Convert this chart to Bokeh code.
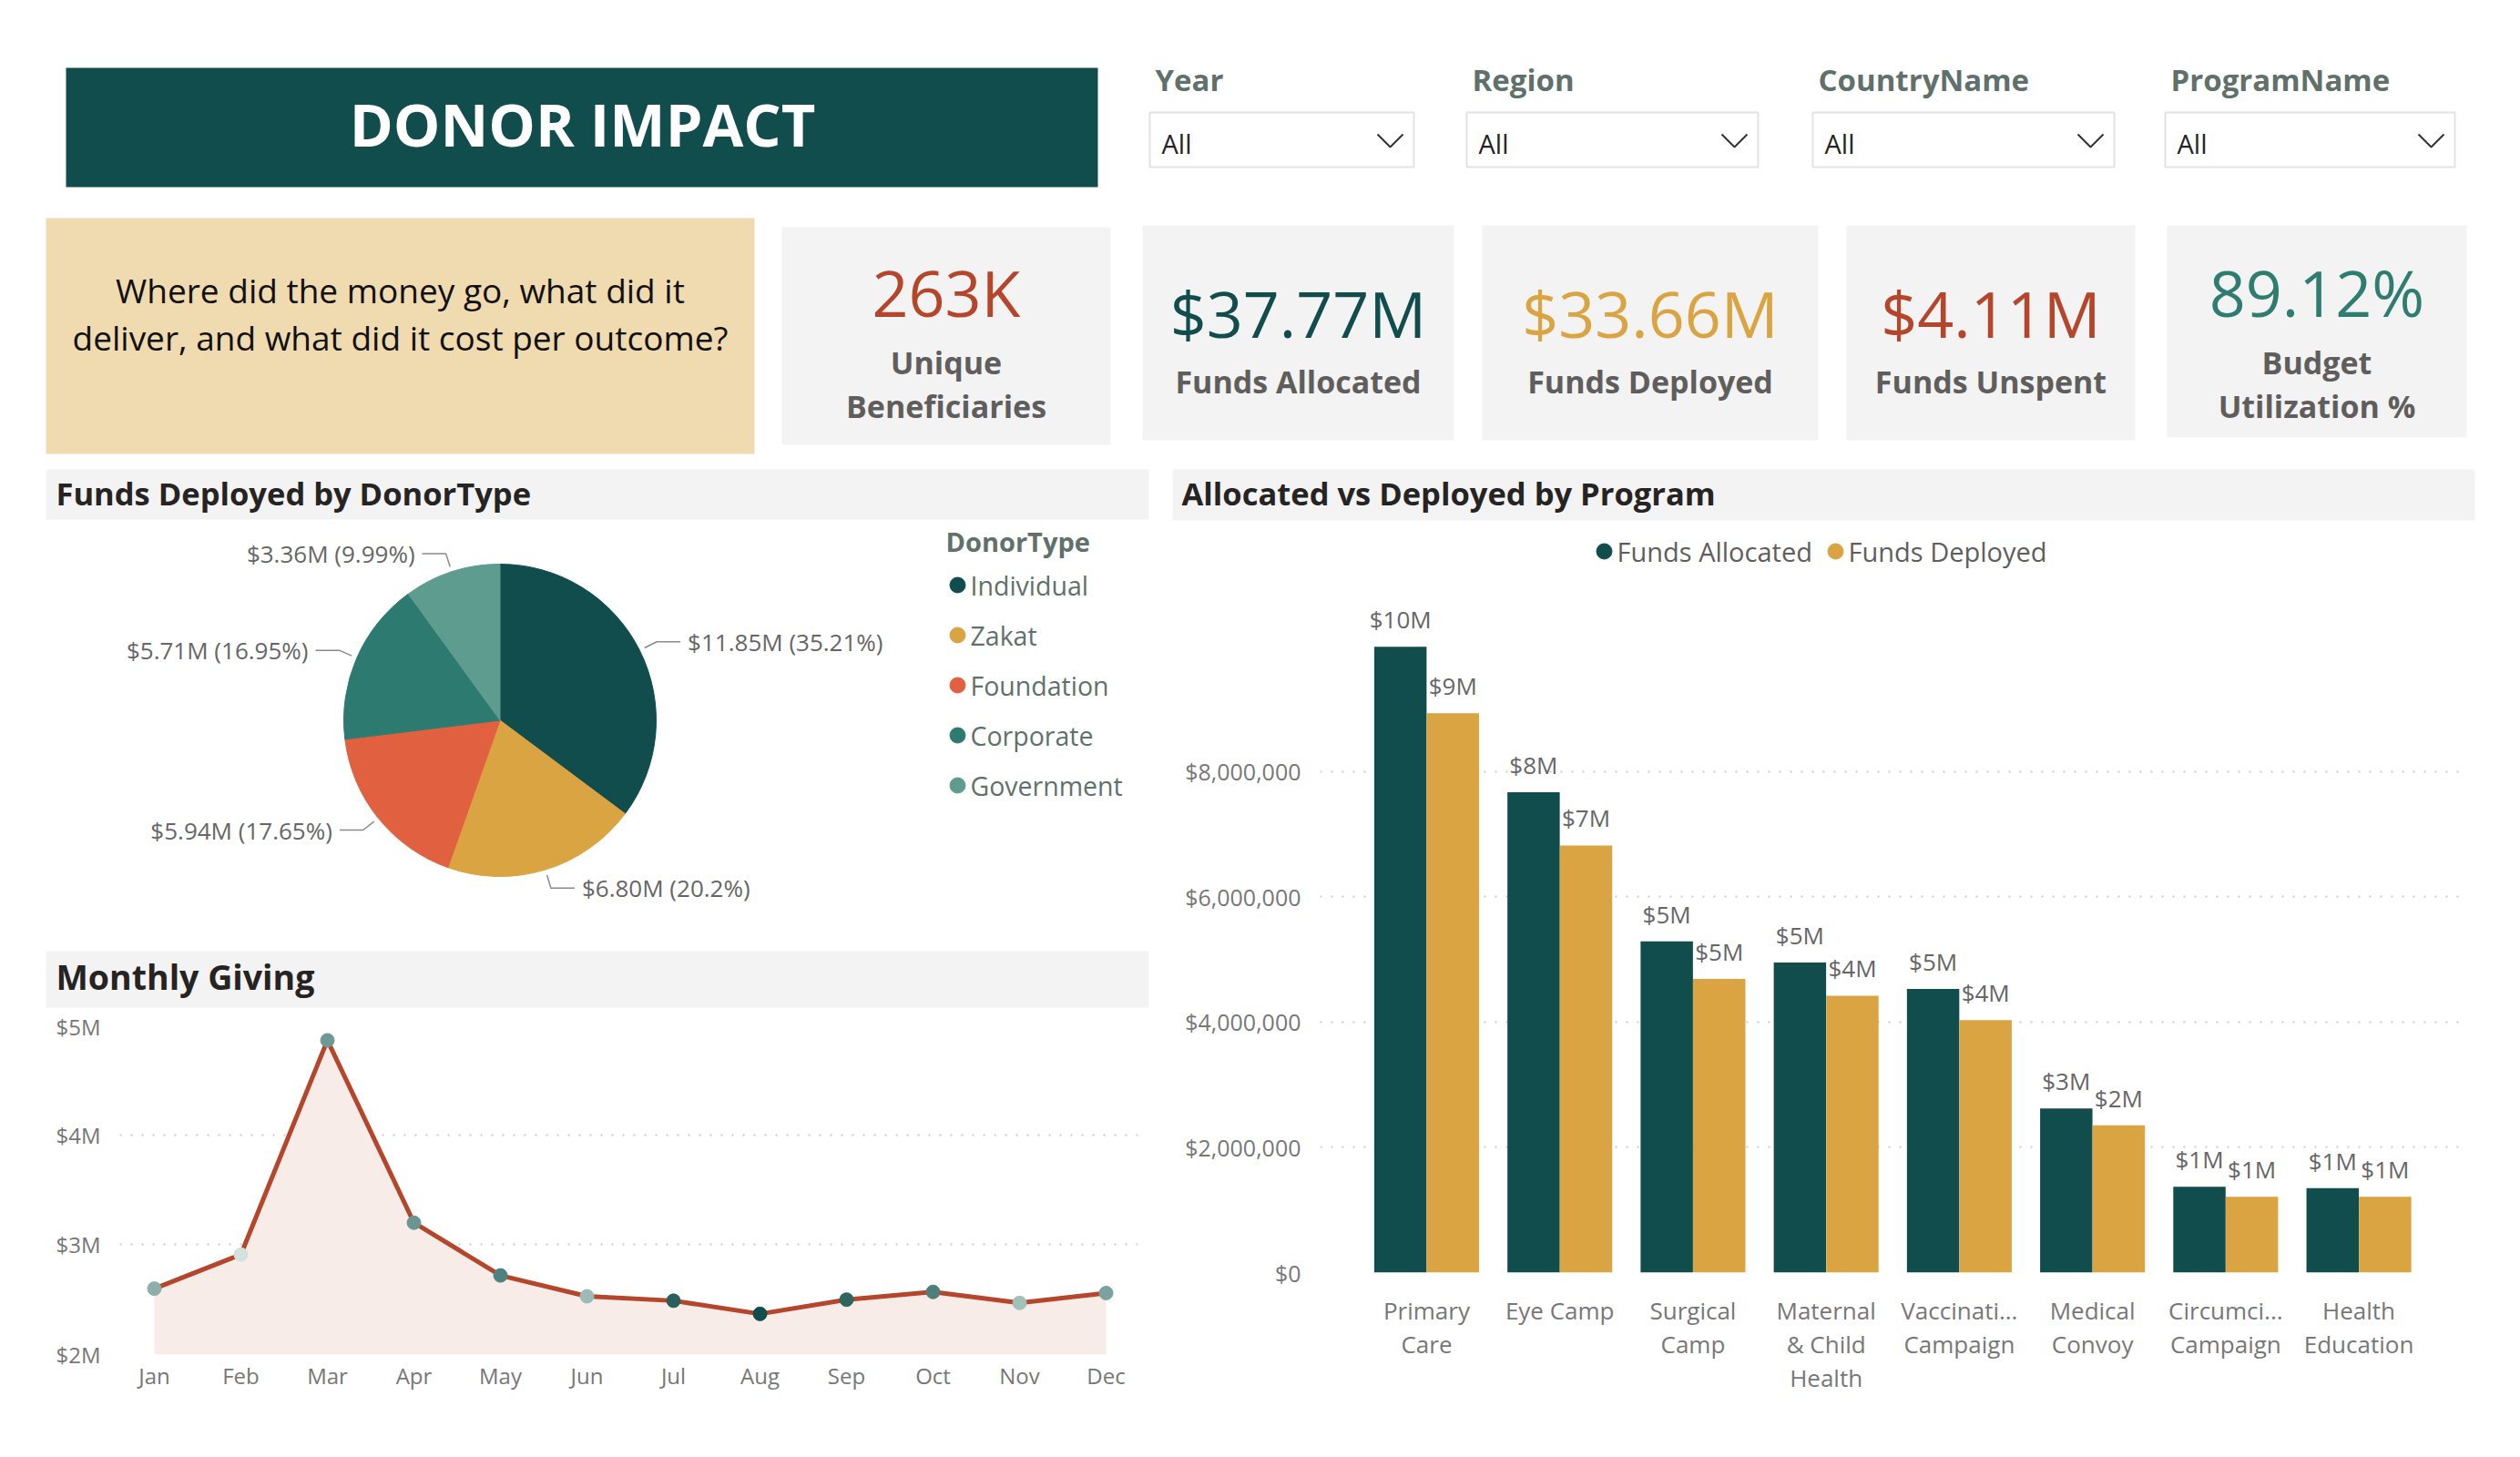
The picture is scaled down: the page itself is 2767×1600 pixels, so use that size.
import math
from bokeh.plotting import figure
from bokeh.layouts import column, row
from bokeh.models import Range1d, FixedTicker, NumeralTickFormatter, PrintfTickFormatter
from bokeh.core.properties import value
from bokeh.embed import file_html
from bokeh.resources import INLINE

# ---------------- data ----------------
filter_names = ["Year", "Region", "CountryName", "ProgramName"]
filter_choice = ["All", "All", "All", "All"]

unique_beneficiaries = 263_000

donor_types = ["Individual", "Zakat", "Foundation", "Corporate", "Government"]
donor_deployed_m = [11.852, 6.800, 5.941, 5.706, 3.363]  # $M

months = ["Jan", "Feb", "Mar", "Apr", "May", "Jun", "Jul", "Aug", "Sep", "Oct", "Nov", "Dec"]
monthly_giving_m = [2.60, 2.91, 4.86, 3.20, 2.72, 2.53, 2.49, 2.37, 2.50, 2.57, 2.47, 2.56]  # $M

programs = ["Primary Care", "Eye Camp", "Surgical Camp", "Maternal & Child Health",
            "Vaccination Campaign", "Medical Convoy", "Circumcision Campaign", "Health Education"]
program_tick_labels = ["Primary\nCare", "Eye Camp", "Surgical\nCamp", "Maternal\n& Child\nHealth",
                       "Vaccinati...\nCampaign", "Medical\nConvoy", "Circumci...\nCampaign", "Health\nEducation"]
funds_allocated = [9_990_000, 7_670_000, 5_290_000, 4_950_000, 4_530_000, 2_620_000, 1_370_000, 1_350_000]
funds_deployed = [8_930_000, 6_820_000, 4_690_000, 4_420_000, 4_030_000, 2_350_000, 1_210_000, 1_210_000]

# ---------------- style ----------------
FONT = value("Open Sans")
TEAL = "#114D4D"
GOLD = "#D9A441"
RUST = "#B5452B"
GREEN = "#2E7D70"
DONOR_COLORS = [TEAL, GOLD, "#E06040", "#2D7B70", "#5E9C8F"]
MARKER_COLORS = ["#8DAEAA", "#D2E2DF", "#6F9995", "#6A9692", "#4E827E", "#9BBBB6",
                 "#2A605C", "#114D4D", "#2E6561", "#4F7F7B", "#A2C0BB", "#7AA39F"]
GREY_TXT = "#605E5C"
AXIS_TXT = "#777777"
LEGEND_TXT = "#5F716A"
STRIP = "#F3F3F3"
CARD = "#F2F3F2"


def deco(w, h, x0, y0):
    """Plain canvas whose data units are page pixels (y negated so it grows downward on the page)."""
    p = figure(width=w, height=h, x_range=Range1d(x0, x0 + w), y_range=Range1d(-(y0 + h), -y0),
               output_backend="svg", toolbar_location=None, title=None, min_border=0,
               outline_line_color=None, x_axis_location=None, y_axis_location=None)
    p.grid.visible = False
    return p


def box(p, x0, y0, x1, y1, fill, line=None, lw=1):
    p.quad(left=[x0], right=[x1], top=[-y0], bottom=[-y1], fill_color=fill,
           line_color=line, line_width=lw)


def label(p, x, y, s, size, color, bold=False, align="left"):
    p.text(x=[x], y=[-y], text=[s], text_font=FONT, text_font_size=f"{size}px",
           text_font_style="bold" if bold else "normal", text_color=color,
           text_align=align, text_baseline="middle")


def fmt_m(v):
    return f"${v / 1e6:.2f}M"


def solo(p):
    # each figure sits in its own box so neighbouring frames keep their own borders
    return row(p)


# ---------------- header band ----------------
hdr = deco(2767, 505, 0, 0)
box(hdr, 72, 74, 1205, 205, TEAL)
label(hdr, 639, 135, "DONOR IMPACT", 65, "white", bold=True, align="center")

filter_boxes = [(1262, 1552), (1610, 1930), (1990, 2321), (2377, 2695)]
for name, choice, (bx0, bx1) in zip(filter_names, filter_choice, filter_boxes):
    label(hdr, bx0 + 6, 87, name, 33, LEGEND_TXT, bold=True)
    box(hdr, bx0, 123, bx1, 183, "white", line="#E3E3E3", lw=2)
    label(hdr, bx0 + 13, 157, choice, 29, "#252423")
    hdr.line(x=[bx1 - 40, bx1 - 26, bx1 - 12], y=[-147, -161, -147], line_color="#333333", line_width=2)

box(hdr, 50, 239, 828, 498, "#F0DAB0")
label(hdr, 439, 318, "Where did the money go, what did it", 37, "#111111", align="center")
label(hdr, 439, 370, "deliver, and what did it cost per outcome?", 37, "#111111", align="center")

total_alloc = sum(funds_allocated)
total_dep = sum(funds_deployed)
kpi_values = [f"{unique_beneficiaries // 1000}K", fmt_m(total_alloc), fmt_m(total_dep),
              fmt_m(total_alloc - total_dep), f"{total_dep / total_alloc * 100:.2f}%"]
kpi_labels = [["Unique", "Beneficiaries"], ["Funds Allocated"], ["Funds Deployed"],
              ["Funds Unspent"], ["Budget", "Utilization %"]]
kpi_colors = [RUST, TEAL, GOLD, RUST, GREEN]
cards = [(858, 249, 1219, 488), (1254, 247, 1596, 483), (1627, 247, 1996, 483),
         (2027, 247, 2344, 483), (2379, 247, 2708, 480)]
for val, labs, col, (cx0, cy0, cx1, cy1) in zip(kpi_values, kpi_labels, kpi_colors, cards):
    box(hdr, cx0, cy0, cx1, cy1, CARD)
    mx = (cx0 + cx1) / 2
    if len(labs) == 2:
        label(hdr, mx, 320, val, 70, col, align="center")
        label(hdr, mx, 397, labs[0], 34, GREY_TXT, bold=True, align="center")
        label(hdr, mx, 445, labs[1], 34, GREY_TXT, bold=True, align="center")
    else:
        label(hdr, mx, 343, val, 70, col, align="center")
        label(hdr, mx, 418, labs[0], 34, GREY_TXT, bold=True, align="center")

# ---------------- pie: funds deployed by donor type ----------------
pie = deco(1275, 530, 0, 505)
box(pie, 50, 515, 1261, 570, STRIP)
label(pie, 61, 541, "Funds Deployed by DonorType", 34.5, "#252423", bold=True)

cx, cy, r = 548.5, -790.5, 171.5
total = sum(donor_deployed_m)
starts, ends = [], []
cum = 0.0
for v in donor_deployed_m:
    frac = v / total
    starts.append(math.pi / 2 - cum * 2 * math.pi)
    ends.append(math.pi / 2 - (cum + frac) * 2 * math.pi)
    cum += frac
pie.wedge(x=[cx] * len(starts), y=[cy] * len(starts), radius=r, start_angle=starts, end_angle=ends,
          direction="clock", fill_color=DONOR_COLORS, line_color=DONOR_COLORS, line_width=1)

leader_xs, leader_ys = [], []
for v, a0, a1 in zip(donor_deployed_m, starts, ends):
    mid = (a0 + a1) / 2
    c, s = math.cos(mid), math.sin(mid)
    px, py = cx + (r + 6) * c, cy + (r + 6) * s
    ex, ey = cx + (r + 21) * c, cy + (r + 21) * s
    side = 1 if c >= 0 else -1
    hx = ex + side * 26
    leader_xs.append([px, ex, hx])
    leader_ys.append([py, ey, ey])
    pct = f"{v / total * 100:.2f}".rstrip("0").rstrip(".")
    pie.text(x=[hx + side * 8], y=[ey], text=[f"${v:.2f}M ({pct}%)"], text_font=FONT,
             text_font_size="26px", text_color="#666666",
             text_align="left" if side > 0 else "right", text_baseline="middle")
pie.multi_line(xs=leader_xs, ys=leader_ys, line_color="#8A8A8A", line_width=1.5)

label(pie, 1038, 594, "DonorType", 29, LEGEND_TXT, bold=True)
leg_y = [642, 697, 752, 807, 862]
for name, col, ly in zip(donor_types, DONOR_COLORS, leg_y):
    pie.scatter(x=[1051], y=[-ly], size=17, marker="circle", fill_color=col, line_color=col)
    label(pie, 1065, ly, name, 28.5, LEGEND_TXT)

# ---------------- monthly giving ----------------
lhead = deco(1275, 75, 0, 1035)
box(lhead, 50, 1044, 1261, 1106, STRIP)
label(lhead, 61, 1072, "Monthly Giving", 37.5, "#252423", bold=True)

lp = figure(width=1275, height=490, x_range=Range1d(-0.4, 11.368), y_range=Range1d(2.0, 5.0),
            output_backend="svg", toolbar_location=None, title=None, outline_line_color=None,
            min_border_left=131, min_border_right=26, min_border_top=15, min_border_bottom=113)
mx_idx = list(range(len(months)))
lp.varea(x=mx_idx, y1=[2.0] * len(months), y2=monthly_giving_m, fill_color="#F8ECE8")
lp.line(x=mx_idx, y=monthly_giving_m, line_color=RUST, line_width=5)
lp.scatter(x=mx_idx, y=monthly_giving_m, size=15, marker="circle", fill_color=MARKER_COLORS,
           line_color=MARKER_COLORS)
lp.xaxis.ticker = FixedTicker(ticks=mx_idx)
lp.xaxis.major_label_overrides = {i: m for i, m in enumerate(months)}
lp.yaxis.ticker = FixedTicker(ticks=[2, 3, 4, 5])
lp.yaxis.formatter = PrintfTickFormatter(format="$%dM")
lp.xgrid.visible = False
lp.ygrid.grid_line_color = "#CCCCCC"
lp.ygrid.grid_line_dash = "2 10"
lp.ygrid.grid_line_width = 2
for ax in (lp.xaxis[0], lp.yaxis[0]):
    ax.axis_line_color = None
    ax.major_tick_line_color = None
    ax.minor_tick_line_color = None
    ax.major_label_text_font = "Open Sans"
    ax.major_label_text_font_size = "24px"
    ax.major_label_text_color = AXIS_TXT
lp.yaxis.major_label_standoff = 15
lp.xaxis.major_label_standoff = 0

# ---------------- allocated vs deployed by program ----------------
bhead = deco(1492, 145, 1275, 505)
box(bhead, 1287, 515, 2717, 571, STRIP)
label(bhead, 1297, 541, "Allocated vs Deployed by Program", 34.5, "#252423", bold=True)
for lx, name, col in [(1761, "Funds Allocated", TEAL), (2015, "Funds Deployed", GOLD)]:
    bhead.scatter(x=[lx], y=[-605], size=17, marker="circle", fill_color=col, line_color=col)
    label(bhead, lx + 14, 605, name, 29, GREY_TXT)

bp = figure(width=1492, height=950, x_range=Range1d(-0.8, 7.762), y_range=Range1d(0, 10_860_000),
            output_backend="svg", toolbar_location=None, title=None, outline_line_color=None,
            min_border_left=174, min_border_right=66, min_border_top=0, min_border_bottom=203)
idx = list(range(len(programs)))
off, bw = 0.197, 0.393
xa = [i - off for i in idx]
xd = [i + off for i in idx]
bp.vbar(x=xa, top=funds_allocated, width=bw, fill_color=TEAL, line_color=None)
bp.vbar(x=xd, top=funds_deployed, width=bw, fill_color=GOLD, line_color=None)
bp.text(x=xa, y=funds_allocated, text=[f"${round(v / 1e6)}M" for v in funds_allocated],
        text_font=FONT, text_font_size="26px", text_color="#666666", text_align="center",
        text_baseline="middle", y_offset=-30)
bp.text(x=xd, y=funds_deployed, text=[f"${round(v / 1e6)}M" for v in funds_deployed],
        text_font=FONT, text_font_size="26px", text_color="#666666", text_align="center",
        text_baseline="middle", y_offset=-30)
bp.xaxis.ticker = FixedTicker(ticks=idx)
bp.xaxis.major_label_overrides = {i: t for i, t in enumerate(program_tick_labels)}
bp.yaxis.ticker = FixedTicker(ticks=[0, 2_000_000, 4_000_000, 6_000_000, 8_000_000])
bp.yaxis.formatter = NumeralTickFormatter(format="$0,0")
bp.xgrid.visible = False
bp.ygrid.grid_line_color = "#CCCCCC"
bp.ygrid.grid_line_dash = "2 10"
bp.ygrid.grid_line_width = 2
for ax in (bp.xaxis[0], bp.yaxis[0]):
    ax.axis_line_color = None
    ax.major_tick_line_color = None
    ax.minor_tick_line_color = None
    ax.major_label_text_font = "Open Sans"
    ax.major_label_text_color = AXIS_TXT
bp.yaxis.major_label_text_font_size = "25px"
bp.yaxis.major_label_standoff = 15
bp.xaxis.major_label_text_font_size = "26px"
bp.xaxis.major_label_text_line_height = 1.03
bp.xaxis.major_label_standoff = 17

left = column(solo(pie), solo(lhead), solo(lp))
right = column(solo(bhead), solo(bp))
layout = column(hdr, row(left, right))
open("out.html", "w").write(file_html(layout, INLINE))
